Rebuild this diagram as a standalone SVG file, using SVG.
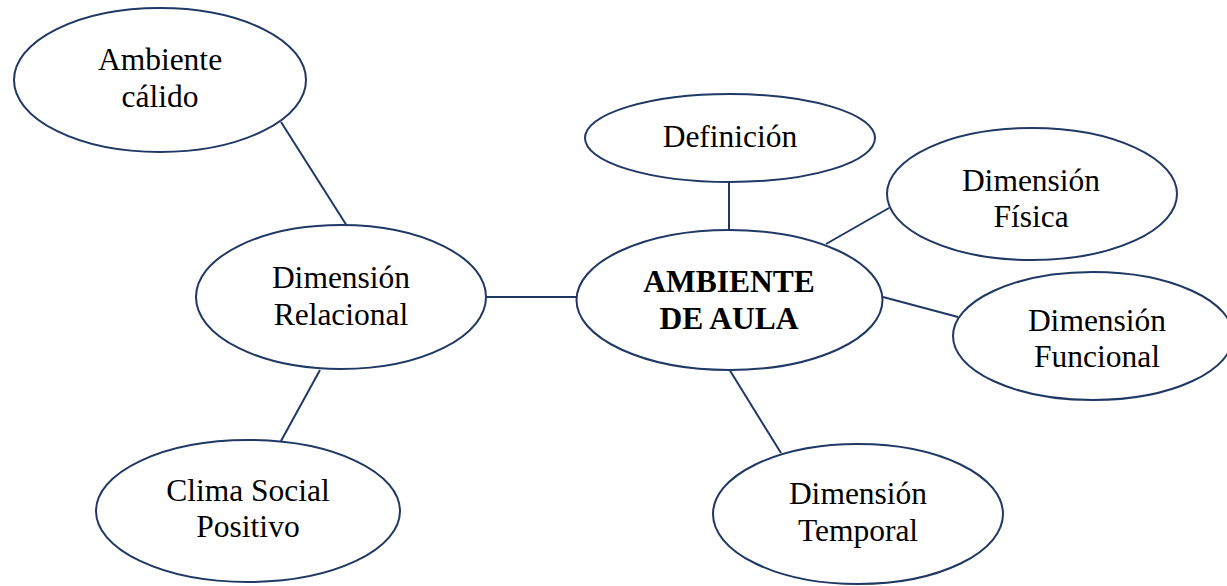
<svg xmlns="http://www.w3.org/2000/svg" width="1227" height="586" viewBox="0 0 1227 586">
<style>
.n{fill:#fff;stroke:#1f3864;stroke-width:2}
.c line{stroke:#1f3864;stroke-width:2}
text{font-family:"Liberation Serif","Times New Roman",serif;font-size:31.5px;fill:#000;text-anchor:middle}
.b{font-weight:bold}
</style>
<rect width="1227" height="586" fill="#fff"/>
<g class="c" id="connectors">
<line x1="281" y1="122" x2="347" y2="226"/>
<line x1="486" y1="297" x2="576" y2="297"/>
<line x1="320" y1="370" x2="281" y2="441"/>
<line x1="729" y1="182" x2="729" y2="230"/>
<line x1="826" y1="244" x2="889" y2="208"/>
<line x1="883" y1="297" x2="958" y2="317"/>
<line x1="729" y1="369" x2="781" y2="453"/>
</g>
<g id="ambiente-calido"><ellipse class="n" cx="160" cy="80" rx="146" ry="72"/><text x="160" y="70">Ambiente</text><text x="160" y="107">cálido</text></g>
<g id="relacional"><ellipse class="n" cx="341" cy="297" rx="145" ry="72"/><text x="341" y="288">Dimensión</text><text x="341" y="325">Relacional</text></g>
<g id="clima"><ellipse class="n" cx="248" cy="511" rx="152" ry="71"/><text x="248" y="501">Clima Social</text><text x="248" y="537">Positivo</text></g>
<g id="definicion"><ellipse class="n" cx="730" cy="138" rx="145" ry="44"/><text x="730" y="147">Definición</text></g>
<g id="ambiente-aula"><ellipse class="n" cx="729.5" cy="300" rx="153" ry="70"/><text class="b" x="729" y="292">AMBIENTE</text><text class="b" x="729" y="329">DE AULA</text></g>
<g id="fisica"><ellipse class="n" cx="1032" cy="194" rx="145" ry="66"/><text x="1031" y="191">Dimensión</text><text x="1031" y="227">Física</text></g>
<g id="funcional"><ellipse class="n" cx="1093" cy="336" rx="140" ry="64"/><text x="1097" y="331">Dimensión</text><text x="1097" y="367">Funcional</text></g>
<g id="temporal"><ellipse class="n" cx="858" cy="514" rx="145" ry="70"/><text x="858" y="504">Dimensión</text><text x="858" y="541">Temporal</text></g>
</svg>
